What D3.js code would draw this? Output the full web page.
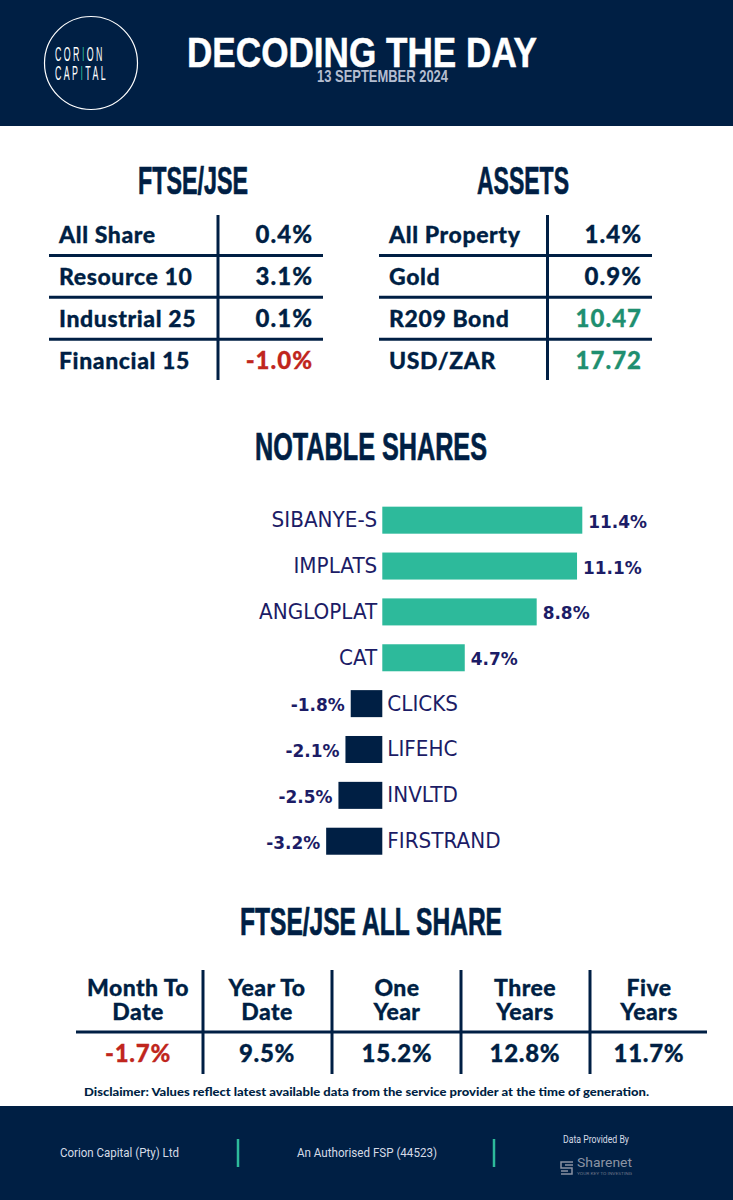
<!DOCTYPE html>
<meta charset="utf-8">
<style>
body { margin: 0; background: #fff; }
svg { display: block; }
text { font-family: "Lato", sans-serif; }
</style>
<body>
<script src="https://d3js.org/d3.v7.min.js"></script>
<script>
var navy = "#001f44";
var teal = "#2dba9b";
var darkTeal = "#1f8f70";
var red = "#c0261d";
var ink = "#1c1c66";
var squeezed = "'Liberation Sans'";

// index tables
var ftseLabels = ["All Share", "Resource 10", "Industrial 25", "Financial 15"];
var ftseValues = ["0.4%", "3.1%", "0.1%", "-1.0%"];
var assetLabels = ["All Property", "Gold", "R209 Bond", "USD/ZAR"];
var assetValues = ["1.4%", "0.9%", "10.47", "17.72"];

// notable shares
var shareNames = ["SIBANYE-S", "IMPLATS", "ANGLOPLAT", "CAT", "CLICKS", "LIFEHC", "INVLTD", "FIRSTRAND"];
var shareValues = [11.4, 11.1, 8.8, 4.7, -1.8, -2.1, -2.5, -3.2];

// all share returns
var periodTop = ["Month To", "Year To", "One", "Three", "Five"];
var periodBottom = ["Date", "Date", "Year", "Years", "Years"];
var periodValues = ["-1.7%", "9.5%", "15.2%", "12.8%", "11.7%"];

var svg = d3.select("body").append("svg").attr("width", 733).attr("height", 1200);

function label(x, y, str, size, fill, anchor, weight, width) {
  var t = svg.append("text").attr("x", x).attr("y", y).text(str)
    .attr("font-size", size).attr("fill", fill)
    .attr("text-anchor", anchor || "start").attr("font-weight", weight || 700);
  if (width) t.attr("textLength", width).attr("lengthAdjust", "spacingAndGlyphs");
  return t;
}
function heavy(t, w) {
  return t.attr("stroke", t.attr("fill")).attr("stroke-width", w);
}
function heading(x, y, str, width) {
  return heavy(label(x, y, str, 38, navy, "middle", 700, width).style("font-family", squeezed), 0.7);
}
function line(x1, y1, x2, y2, color, w) {
  svg.append("line").attr("x1", x1).attr("y1", y1).attr("x2", x2).attr("y2", y2)
    .attr("stroke", color).attr("stroke-width", w);
}
// logo word, squashed sideways and spaced out, the i in teal
function logoWord(y, before, after) {
  var t = svg.append("text").attr("transform", "translate(55," + y + ") scale(0.42,1)")
    .attr("font-size", 21).attr("fill", "#fff")
    .style("font-family", squeezed).style("letter-spacing", "5.8px");
  t.append("tspan").text(before);
  t.append("tspan").attr("fill", teal).text("I");
  t.append("tspan").text(after);
}
// squeeze measured text so it keeps its height but runs narrower
function narrow(sel, k) {
  sel.each(function() {
    d3.select(this).attr("textLength", this.getComputedTextLength() * k).attr("lengthAdjust", "spacingAndGlyphs");
  });
}

// header
svg.append("rect").attr("width", 733).attr("height", 126).attr("fill", navy);
svg.append("circle").attr("cx", 91).attr("cy", 63).attr("r", 46.5)
  .attr("fill", "none").attr("stroke", "#fff").attr("stroke-width", 1.2);
logoWord(61, "COR", "ON");
logoWord(80, "CAP", "TAL");
heavy(label(187, 67, "DECODING THE DAY", 42, "#fff", "start", 700, 350).style("font-family", squeezed), 0.5);
label(317, 82, "13 SEPTEMBER 2024", 17, "#b4bdd0", "start", 700, 131).style("font-family", squeezed);

// small table of label / value rows
function drawTable(title, titleX, titleW, labels, values, x0, xSplit, x1, textX, valX, colorFor) {
  heading(titleX, 194, title, titleW);
  var y = d3.scaleBand().domain(d3.range(labels.length)).range([213.5, 381]);
  y.domain().forEach(function(i) {
    heavy(label(textX, y(i) + 29.5, labels[i], 23, navy, "start", 900), 0.3).style("letter-spacing", "0.6px");
    heavy(label(valX, y(i) + 29.5, values[i], 24, colorFor(i), "end", 900), 0.3).style("letter-spacing", "1px");
    if (i > 0) line(x0, y(i), x1, y(i), navy, 3);
  });
  line(xSplit, 215, xSplit, 380, navy, 3);
}
drawTable("FTSE/JSE", 193, 110, ftseLabels, ftseValues, 49, 218, 323, 59, 313,
  function(i) { return ftseValues[i][0] == "-" ? red : navy; });
drawTable("ASSETS", 523, 92, assetLabels, assetValues, 379, 547.5, 652, 389, 642,
  function(i) { return i > 1 ? darkTeal : navy; });

// notable shares
heading(371, 460, "NOTABLE SHARES", 232);
var x = d3.scaleLinear().domain([0, 11.4]).range([382.3, 582.3]);
var y = d3.scaleBand().domain(shareNames).range([497.5, 863.9]).paddingInner(0.411).paddingOuter(0.2);

svg.append("g").selectAll("rect").data(shareNames).join("rect")
  .attr("x", function(d, i) { return Math.min(x(0), x(shareValues[i])); })
  .attr("y", function(d) { return y(d); })
  .attr("width", function(d, i) { return Math.abs(x(shareValues[i]) - x(0)); })
  .attr("height", y.bandwidth())
  .attr("fill", function(d, i) { return shareValues[i] > 0 ? teal : navy; });

svg.append("g").selectAll("text").data(shareNames).join("text")
  .attr("x", function(d, i) { return shareValues[i] > 0 ? x(0) - 5 : x(0) + 5; })
  .attr("y", function(d) { return y(d) + y.bandwidth() / 2 + 7; })
  .attr("text-anchor", function(d, i) { return shareValues[i] > 0 ? "end" : "start"; })
  .attr("font-size", 21.5).attr("fill", ink)
  .style("font-family", "'DejaVu Sans'")
  .text(function(d) { return d; })
  .call(narrow, 0.93);

svg.append("g").selectAll("text").data(shareNames).join("text")
  .attr("x", function(d, i) { return shareValues[i] > 0 ? x(shareValues[i]) + 6 : x(shareValues[i]) - 6; })
  .attr("y", function(d) { return y(d) + y.bandwidth() / 2 + 7.5; })
  .attr("text-anchor", function(d, i) { return shareValues[i] > 0 ? "start" : "end"; })
  .attr("font-size", 18).attr("font-weight", 700).attr("fill", ink)
  .style("font-family", "'DejaVu Sans'")
  .text(function(d, i) { return shareValues[i].toFixed(1) + "%"; })
  .call(narrow, 0.94);

// all share returns table
heading(371, 935, "FTSE/JSE ALL SHARE", 262);
var colCenter = [138, 267, 397, 525, 649];
periodTop.forEach(function(d, i) {
  var t = heavy(label(colCenter[i], 996, "", 23, navy, "middle", 900), 0.3).style("letter-spacing", "0.4px");
  t.append("tspan").attr("x", colCenter[i]).text(d);
  t.append("tspan").attr("x", colCenter[i]).attr("dy", 24).text(periodBottom[i]);
  heavy(label(colCenter[i], 1062, periodValues[i], 24, periodValues[i][0] == "-" ? red : navy, "middle", 900), 0.3)
    .style("letter-spacing", "0.7px");
});
[203, 332, 461, 590].forEach(function(vx) { line(vx, 970, vx, 1074, navy, 3); });
line(76, 1032, 707, 1032, navy, 3);

label(84, 1096, "Disclaimer: Values reflect latest available data from the service provider at the time of generation.", 12, navy, "start", 900, 565);

// footer
svg.append("rect").attr("y", 1106).attr("width", 733).attr("height", 94).attr("fill", navy);
label(60, 1157, "Corion Capital (Pty) Ltd", 13, "#d5dbe6", "start", 400, 119).style("font-family", "Roboto");
label(367, 1157, "An Authorised FSP (44523)", 13, "#d5dbe6", "middle", 400, 140).style("font-family", "Roboto");
line(238, 1139, 238, 1167, teal, 2.5);
line(494, 1139, 494, 1167, teal, 2.5);
label(596, 1143, "Data Provided By", 10, "#d5dbe6", "middle", 400, 66).style("font-family", "Roboto");
svg.append("path").attr("d", "M573 1162H561V1168H572V1174H561M565 1165H573M561 1171H568")
  .attr("fill", "none").attr("stroke", "#8b93a3").attr("stroke-width", 1.5);
label(577, 1167, "Sharenet", 13, "#8b93a3", "start", 400, 55).style("font-family", "Roboto");
label(577, 1174.5, "YOUR KEY TO INVESTING", 4, "#6d7688", "start", 400, 55).style("font-family", "Roboto");
</script>
